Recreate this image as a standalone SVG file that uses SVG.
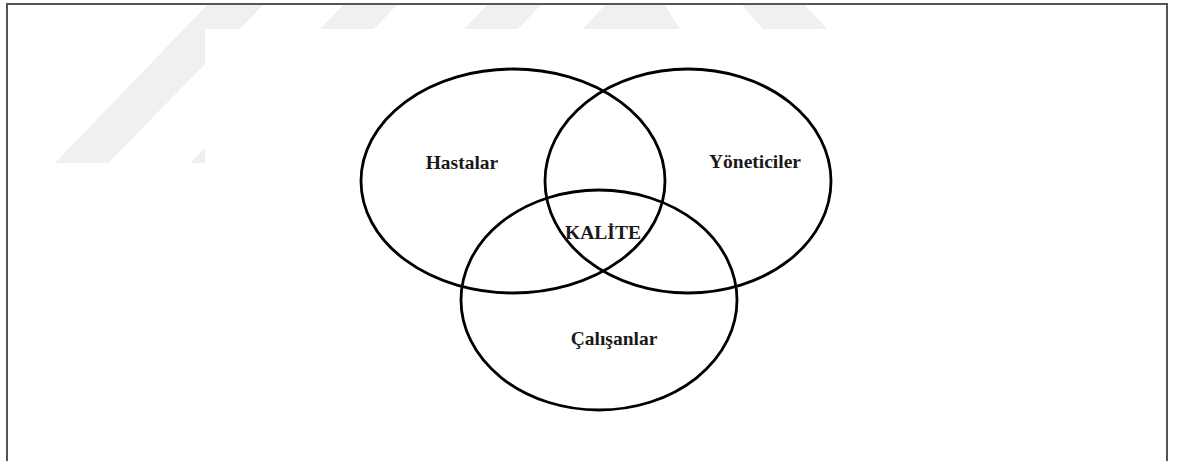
<svg xmlns="http://www.w3.org/2000/svg" width="1179" height="461" viewBox="0 0 1179 461">
  <style>
    .wm { fill: #f0f0f0; }
    .frame { stroke: #555; stroke-width: 2; fill: none; }
    .set { fill: none; stroke: #000; stroke-width: 2.8; }
    .lbl { font-family: "Liberation Serif", "Times New Roman", serif; font-weight: bold; font-size: 19.5px; fill: #1a1a1a; text-anchor: middle; }
  </style>
  <rect x="0" y="0" width="1179" height="461" fill="#fff"/>
  <g id="watermark">
    <polygon class="wm" points="55,163 108,163 263,5 207,5"/>
    <polygon class="wm" points="190,163 243,163 397,5 343,5"/>
    <polygon class="wm" points="334,163 388,163 541,5 487,5"/>
    <polygon class="wm" points="583,29 605,5 665,5 680,29"/>
    <polygon class="wm" points="742,5 805,5 827,29 763,29"/>
    <rect x="205" y="29" width="960" height="145" fill="#fff"/>
  </g>
  <g id="frame">
    <polyline class="frame" points="7,461 7,4 1167,4 1167,461"/>
  </g>
  <g id="connectors"></g>
  <g id="hastalar">
    <ellipse class="set" cx="513" cy="181" rx="152" ry="112"/>
    <text class="lbl" x="462" y="169">Hastalar</text>
  </g>
  <g id="yoneticiler">
    <ellipse class="set" cx="688" cy="181" rx="143" ry="112"/>
    <text class="lbl" x="755" y="168">Yöneticiler</text>
  </g>
  <g id="calisanlar">
    <ellipse class="set" cx="599" cy="300" rx="138" ry="110"/>
    <text class="lbl" x="614" y="345">Çalışanlar</text>
  </g>
  <g id="kalite">
    <text class="lbl" x="603" y="239">KALİTE</text>
  </g>
</svg>
